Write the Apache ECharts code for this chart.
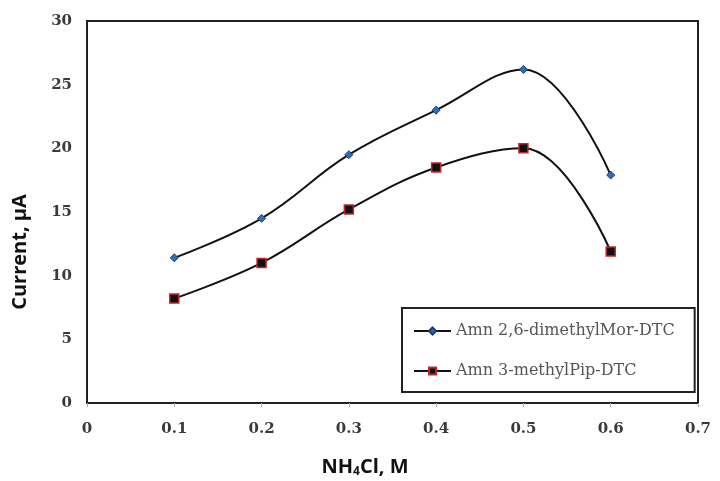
<!DOCTYPE html>
<html><head><meta charset="utf-8">
<script src="https://cdn.jsdelivr.net/npm/echarts@6/dist/echarts.min.js"></script>
<style>html,body{margin:0;padding:0;background:#fff}#c{width:720px;height:481px}</style>
</head><body><div id="c"></div>
<script>
const xValues = [0.1, 0.2, 0.3, 0.4, 0.5, 0.6];
const seriesNames = ['Amn 2,6-dimethylMor-DTC', 'Amn 3-methylPip-DTC'];
const dimethylMor = [11.4, 14.5, 19.5, 23.0, 26.2, 17.9];
const methylPip = [8.2, 11.0, 15.2, 18.5, 20.0, 11.9];
const xTitle = '{a|NH}{s|4}{a|Cl, M}';
const yTitle = 'Current, µA';

const chart = echarts.init(document.getElementById('c'));
const tickFont = {fontFamily: 'DejaVu Serif', fontSize: 15, fontWeight: 'bold', color: '#3a3a3a'};
chart.setOption({
  animation: false,
  grid: {left: 87, right: 22, top: 21, bottom: 78, show: true, borderColor: '#222', borderWidth: 2},
  xAxis: {
    type: 'value', min: 0, max: 0.7, interval: 0.1,
    axisLine: {show: true, lineStyle: {color: '#222', width: 2}},
    axisTick: {show: true, length: 4, lineStyle: {color: '#aaa'}},
    splitLine: {show: false},
    axisLabel: Object.assign({margin: 19, formatter: v => String(Math.round(v*10)/10)}, tickFont)
  },
  yAxis: {
    type: 'value', min: 0, max: 30, interval: 5,
    axisLine: {show: true, lineStyle: {color: '#222', width: 2}},
    axisTick: {show: false},
    splitLine: {show: false},
    axisLabel: Object.assign({margin: 15}, tickFont)
  },
  graphic: [
    {type: 'text', x: 365, y: 467, style: {
      text: xTitle, align: 'center', verticalAlign: 'middle',
      rich: {
        a: {fontFamily: 'Open Sans', fontWeight: 'bold', fontSize: 20, fill: '#111'},
        s: {fontFamily: 'Open Sans', fontWeight: 'bold', fontSize: 12, fill: '#111', padding: [9, 0, 0, 0]}
      }}},
    {type: 'text', x: 20, y: 252, rotation: Math.PI / 2, style: {
      text: yTitle, align: 'center', verticalAlign: 'middle',
      fontFamily: 'Open Sans', fontWeight: 'bold', fontSize: 20, fill: '#111'}}
  ],
  legend: {
    orient: 'vertical', left: 402, top: 308,
    padding: [15, 20, 13, 11], itemGap: 24,
    borderColor: '#222', borderWidth: 2, backgroundColor: '#fff',
    itemWidth: 37, itemHeight: 9,
    textStyle: {fontFamily: 'DejaVu Serif', fontSize: 16, color: '#555'},
    data: seriesNames
  },
  series: [
    {name: seriesNames[0], type: 'line', smooth: 0.4,
     data: xValues.map((x, i) => [x, dimethylMor[i]]),
     symbol: 'diamond', symbolSize: 8,
     lineStyle: {color: '#111', width: 2},
     itemStyle: {color: '#2a6fb8', borderColor: '#1a3f70', borderWidth: 1}},
    {name: seriesNames[1], type: 'line', smooth: 0.4,
     data: xValues.map((x, i) => [x, methylPip[i]]),
     symbol: 'rect', symbolSize: 9,
     lineStyle: {color: '#111', width: 2},
     itemStyle: {color: '#111', borderColor: '#c0282a', borderWidth: 1.5}}
  ]
});
</script></body></html>
